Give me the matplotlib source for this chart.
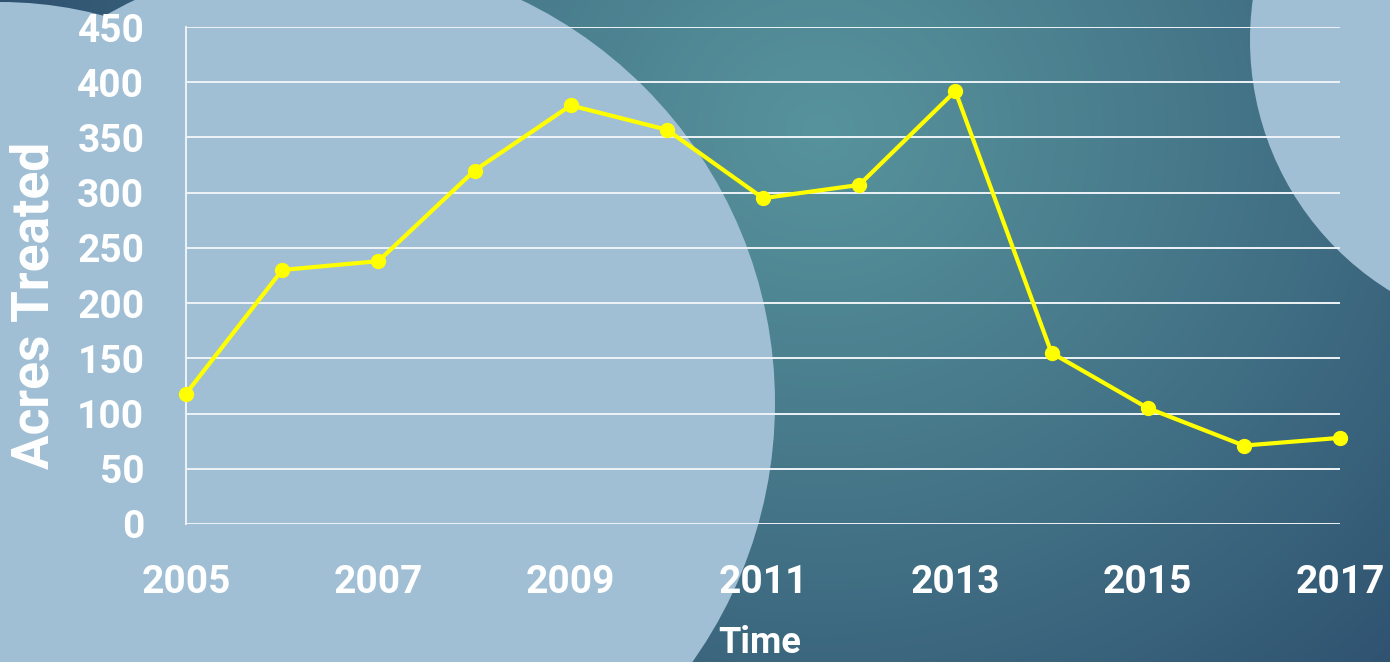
import numpy as np
import matplotlib
matplotlib.use("Agg")
import matplotlib.pyplot as plt
from matplotlib.patches import Circle

# ---- data ----
years = [2005, 2006, 2007, 2008, 2009, 2010, 2011, 2012, 2013, 2014, 2015, 2016, 2017]
acres = [118, 230, 238, 320, 379, 357, 295, 307, 392, 155, 105, 71, 78]
x_ticks = [2005, 2007, 2009, 2011, 2013, 2015, 2017]
y_ticks = [0, 50, 100, 150, 200, 250, 300, 350, 400, 450]
y_label = "Acres Treated"
x_label = "Time"

W, H = 1390, 662
fig = plt.figure(figsize=(W / 100, H / 100), dpi=100)

# ---- background ----
bg = fig.add_axes([0, 0, 1, 1])
bg.set_xlim(0, W)
bg.set_ylim(H, 0)
bg.axis("off")
yy, xx = np.mgrid[0:H, 0:W]
d = np.sqrt((xx - 820) ** 2 + ((yy - 130) * 1.1) ** 2)
t = np.clip(d / 950, 0, 1)[..., None] ** 1.1
c0 = np.array([0x57, 0x93, 0x9c]) / 255
c1 = np.array([0x28, 0x47, 0x69]) / 255
img = c0 * (1 - t) + c1 * t
bg.imshow(img, extent=(0, W, H, 0), aspect="auto", zorder=0)
light = "#a0bfd4"
bg.add_patch(Circle((328, 403), 447, color=light, zorder=1, lw=0))
bg.add_patch(Circle((0, 400), 398, color=light, zorder=1, lw=0))
bg.add_patch(Circle((1545, 40), 295, color=light, zorder=1, lw=0))

# ---- chart ----
ax = fig.add_axes([186 / W, 1 - 524 / H, (1340 - 186) / W, (524 - 27) / H])
ax.patch.set_alpha(0)
ax.set_xlim(2005, 2017)
ax.set_ylim(0, 450)
ax.set_yticks(y_ticks)
ax.set_xticks(x_ticks)
ax.set_xticklabels([str(v) for v in x_ticks])
ax.grid(axis="y", color="#eef3f7", lw=1.4)
ax.set_axisbelow(True)
for s in ["top", "right", "bottom"]:
    ax.spines[s].set_visible(False)
ax.spines["left"].set_color("#eef3f7")
ax.spines["left"].set_linewidth(1.4)
ax.tick_params(axis="both", length=0, colors="white")
ax.tick_params(axis="y", pad=30)
ax.tick_params(axis="x", pad=29)
for lab in ax.get_xticklabels() + ax.get_yticklabels():
    lab.set_fontfamily("Roboto")
    lab.set_fontweight("bold")
    lab.set_fontsize(28)
    lab.set_color("white")

ax.plot(years, acres, color="#ffff00", lw=3, marker="o", markersize=10,
        clip_on=False, zorder=5)

fig.text(35 / W, 1 - 305 / H, y_label, rotation=90, ha="center", va="center",
         color="white", fontsize=37, fontweight="bold", family="Roboto")
fig.text(760 / W, 1 - 643 / H, x_label, ha="center", va="center",
         color="white", fontsize=26, fontweight="bold", family="Roboto")

fig.savefig("out.png", dpi=100)
